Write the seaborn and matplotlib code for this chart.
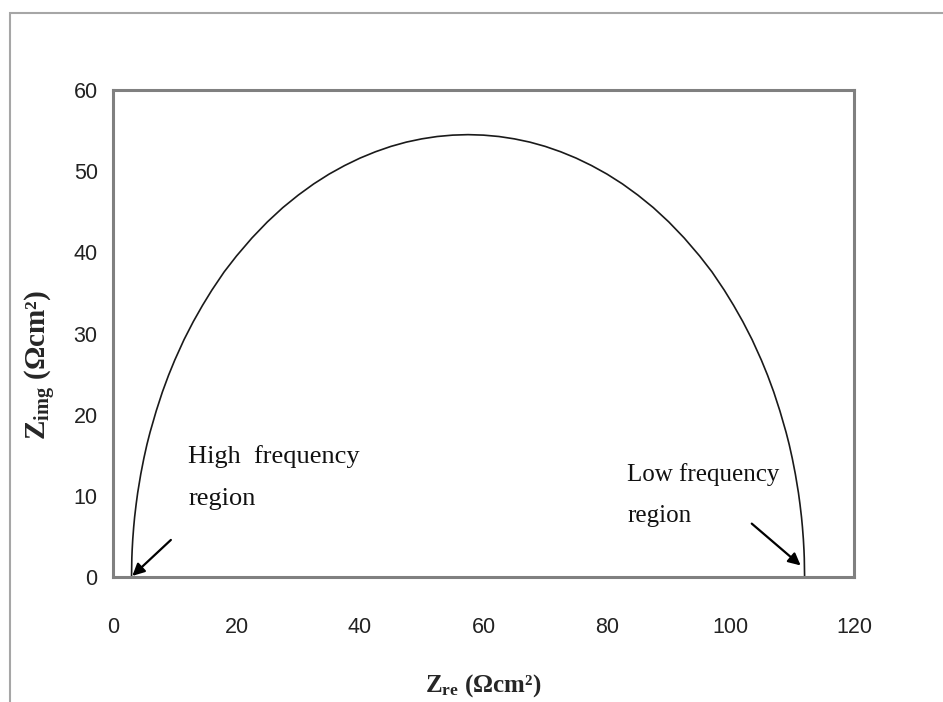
import numpy as np
import pandas as pd
import seaborn as sns
import matplotlib.pyplot as plt
from matplotlib.patches import Rectangle

# Nyquist curve (Zre, Zimg in ohm cm^2)
z_re = [3.0, 3.05, 3.1, 3.2, 3.35, 3.5, 3.75, 4.0, 4.5, 5.0, 5.5, 6.0, 7.0, 8.0, 9.0,
        10.0, 11.5, 13.0, 14.5, 16.0, 18.0, 20.0, 22.5, 25.0, 27.5, 30.0, 32.5, 35.0,
        37.5, 40.0, 42.5, 45.0, 47.5, 50.0, 52.5, 55.0, 57.5, 60.0, 62.5, 65.0, 67.5,
        70.0, 72.5, 75.0, 77.5, 80.0, 82.5, 85.0, 87.5, 90.0, 92.5, 95.0, 97.0, 99.0,
        100.5, 102.0, 103.5, 105.0, 106.0, 107.0, 108.0, 109.0, 109.5, 110.0, 110.5,
        111.0, 111.25, 111.5, 111.65, 111.8, 111.9, 111.95, 112.0]
z_img = [0.0, 2.33, 3.29, 4.66, 6.15, 7.37, 8.98, 10.39, 12.69, 14.63, 16.34, 17.83,
         20.46, 22.80, 24.86, 26.72, 29.24, 31.46, 33.47, 35.33, 37.59, 39.55, 41.77,
         43.75, 45.51, 47.05, 48.43, 49.64, 50.69, 51.61, 52.39, 53.05, 53.58, 53.98,
         54.27, 54.44, 54.5, 54.44, 54.27, 53.98, 53.58, 53.05, 52.39, 51.61, 50.69,
         49.64, 48.43, 47.05, 45.51, 43.75, 41.77, 39.55, 37.59, 35.33, 33.47, 31.46,
         29.24, 26.72, 24.86, 22.80, 20.46, 17.83, 16.34, 14.63, 12.69, 10.39, 8.98,
         7.37, 6.15, 4.66, 3.29, 2.33, 0.0]
x_ticks = [0, 20, 40, 60, 80, 100, 120]
y_ticks = [0, 10, 20, 30, 40, 50, 60]

df = pd.DataFrame({'Zre': z_re, 'Zimg': z_img})

sns.set_style('white')
plt.rcParams['mathtext.fontset'] = 'custom'
plt.rcParams['mathtext.rm'] = 'Liberation Serif'
plt.rcParams['mathtext.bf'] = 'Liberation Serif:bold'
tick_font = ['Liberation Sans Narrow', 'Liberation Sans', 'DejaVu Sans']
serif = ['Liberation Serif', 'DejaVu Serif']

fig = plt.figure(figsize=(9.43, 7.02), dpi=100)
ax = fig.add_axes([113 / 943, 1 - 577 / 702, 741 / 943, 487 / 702])

sns.lineplot(data=df, x='Zre', y='Zimg', ax=ax, sort=False, color='#1a1a1a', linewidth=1.2)

ax.set_xlim(0, 120)
ax.set_ylim(0, 60)
ax.set_xticks(x_ticks)
ax.set_yticks(y_ticks)
ax.set_xticklabels([str(t) for t in x_ticks], family=tick_font, fontsize=15.5, color='#222222')
ax.set_yticklabels([str(t) for t in y_ticks], family=tick_font, fontsize=15.5, color='#222222')
ax.tick_params(axis='x', length=0, pad=29)
ax.tick_params(axis='y', length=0, pad=11)
for s in ax.spines.values():
    s.set_color('#808080')
    s.set_linewidth(2.2)
ax.set_xlabel('')
ax.set_ylabel('')

# axis labels
fig.text(483 / 943, 1 - 686 / 702, r'$\mathbf{Z_{re}}$' + ' (Ωcm²)', family=serif,
         fontweight='bold', fontsize=18, ha='center', va='center')
fig.text(40 / 943, 1 - 365 / 702, r'$\mathbf{Z_{img}}$' + ' (Ωcm²)', family=serif,
         fontweight='bold', fontsize=21, ha='center', va='center', rotation=90)

# annotations
ax.text(12.2, 16.2, 'High  frequency\nregion', family=serif, fontsize=19,
        ha='left', va='top', linespacing=2.15, color='#111111')
ax.text(83.3, 14.0, 'Low frequency\nregion', family=serif, fontsize=18,
        ha='left', va='top', linespacing=2.1, color='#111111')
ax.annotate('', xy=(2.8, -0.1), xytext=(9.7, 4.8),
            arrowprops=dict(arrowstyle='-|>', color='black', lw=1.6, mutation_scale=18),
            annotation_clip=False)
ax.annotate('', xy=(111.7, 1.2), xytext=(103.1, 6.8),
            arrowprops=dict(arrowstyle='-|>', color='black', lw=1.6, mutation_scale=18),
            annotation_clip=False)

# outer frame of the figure
fig.patches.append(Rectangle((10 / 943, -0.2), 2.0, 1.2 - 13 / 702,
                             transform=fig.transFigure, fill=False,
                             edgecolor='#a6a6a6', linewidth=1.5))

fig.savefig('out.png', dpi=100)
